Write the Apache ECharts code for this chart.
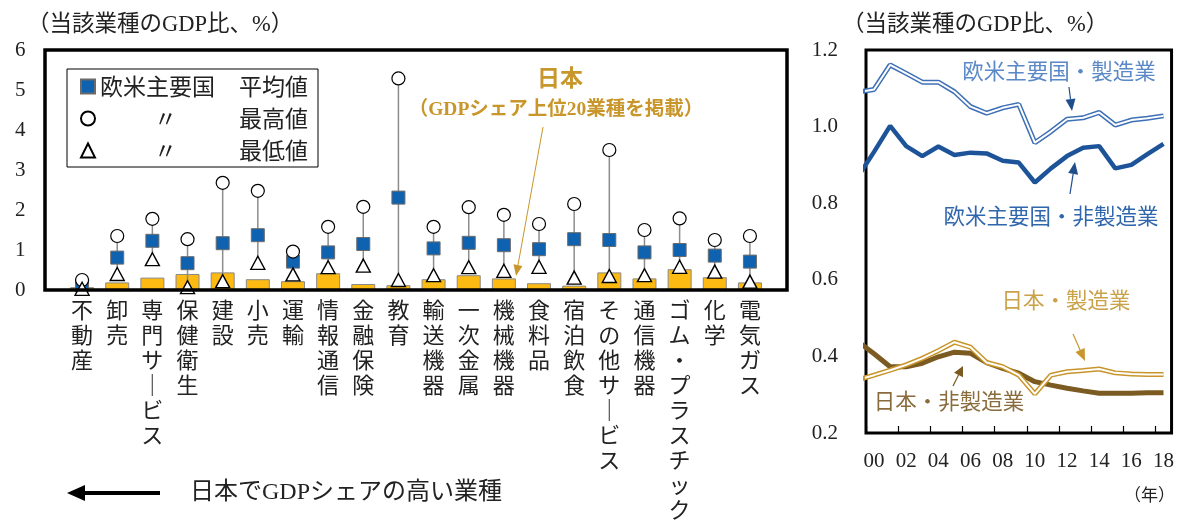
<!DOCTYPE html>
<html>
<head>
<meta charset="utf-8">
<script src="https://cdn.jsdelivr.net/npm/echarts@6/dist/echarts.min.js"></script>
<style>
  html, body { margin: 0; padding: 0; background: #fff; }
  #main { width: 1177px; height: 522px; }
</style>
</head>
<body>
<div id="main"></div>
<script>
// left panel: industries sorted by Japan's GDP share
var sectors = ['不動産', '卸売', '専門サービス', '保健衛生', '建設', '小売', '運輸', '情報通信', '金融保険', '教育',
    '輸送機器', '一次金属', '機械機器', '食料品', '宿泊飲食', 'その他サービス', '通信機器', 'ゴム・プラスチック', '化学', '電気ガス'];
var japanShare = [0.07, 0.19, 0.31, 0.40, 0.44, 0.27, 0.22, 0.42, 0.15, 0.12, 0.27, 0.37, 0.29, 0.17, 0.11, 0.44, 0.29, 0.52, 0.32, 0.19];
var usEuAvg = [0.12, 0.81, 1.23, 0.67, 1.17, 1.37, 0.71, 0.94, 1.15, 2.31, 1.04, 1.18, 1.12, 1.02, 1.27, 1.25, 0.94, 1.00, 0.86, 0.71];
var usEuMax = [0.25, 1.35, 1.78, 1.27, 2.68, 2.48, 0.96, 1.58, 2.08, 5.29, 1.58, 2.07, 1.88, 1.65, 2.15, 3.50, 1.50, 1.79, 1.25, 1.35];
var usEuMin = [0.03, 0.40, 0.77, 0.07, 0.22, 0.68, 0.39, 0.57, 0.61, 0.25, 0.37, 0.57, 0.48, 0.58, 0.31, 0.35, 0.37, 0.58, 0.46, 0.21];

// right panel: time series (1999 point is cut off by the frame)
var lineYears = [1999, 2000, 2001, 2002, 2003, 2004, 2005, 2006, 2007, 2008, 2009, 2010, 2011, 2012, 2013, 2014, 2015, 2016, 2017, 2018];
var usEuMfg = [1.090, 1.097, 1.161, 1.139, 1.116, 1.116, 1.091, 1.052, 1.035, 1.049, 1.058, 0.958, 0.987, 1.019, 1.023, 1.037, 1.004, 1.017, 1.022, 1.028];
var usEuNonMfg = [0.869, 0.934, 1.002, 0.949, 0.923, 0.948, 0.926, 0.932, 0.930, 0.911, 0.906, 0.854, 0.891, 0.923, 0.945, 0.949, 0.891, 0.900, 0.928, 0.955];
var jpMfg = [0.339, 0.351, 0.364, 0.378, 0.395, 0.415, 0.437, 0.424, 0.384, 0.373, 0.351, 0.302, 0.351, 0.360, 0.363, 0.367, 0.357, 0.354, 0.353, 0.353];
var jpNonMfg = [0.439, 0.407, 0.373, 0.373, 0.382, 0.399, 0.411, 0.408, 0.384, 0.369, 0.356, 0.334, 0.325, 0.317, 0.310, 0.304, 0.304, 0.304, 0.305, 0.305];

var JP = '"Noto Sans CJK JP", sans-serif';
var SERIF = '"Liberation Serif", "Noto Sans CJK JP", serif';

var axisYears = lineYears.slice(1).map(function (y) { return String(y).slice(2); });

function pairs(arr) {
    return lineYears.map(function (y, i) { return [y, arr[i]]; });
}

// vertical label text, one character per line
function vertical(s) {
    return s.replace(/ー/g, '｜').split('').join('\n');
}

// arrow made of a line and a head
function arrow(x1, y1, x2, y2, color, lw, hl, hw) {
    var dx = x2 - x1, dy = y2 - y1;
    var len = Math.sqrt(dx * dx + dy * dy);
    var ux = dx / len, uy = dy / len;
    var bx = x2 - ux * hl, by = y2 - uy * hl;
    return [
        { type: 'line', shape: { x1: x1, y1: y1, x2: bx, y2: by }, style: { stroke: color, lineWidth: lw }, z: 100 },
        {
            type: 'polygon', z: 100,
            shape: { points: [[x2, y2], [bx - uy * hw, by + ux * hw], [bx + uy * hw, by - ux * hw]] },
            style: { fill: color }
        }
    ];
}

function label(text, x, y, color, size, align, weight) {
    return {
        type: 'text', x: x, y: y, z: 100,
        style: {
            text: text, fill: color, font: (weight || 'normal') + ' ' + size + 'px ' + SERIF,
            align: align || 'left', textAlign: align || 'left', verticalAlign: 'middle', textVerticalAlign: 'middle'
        }
    };
}

var graphics = [
    // left frame
    { type: 'rect', z: 50, shape: { x: 45, y: 50, width: 742, height: 240 }, style: { fill: 'none', stroke: '#000', lineWidth: 3.5 } },
    label('（当該業種のGDP比、%）', 27, 25, '#222', 22.5),
    label('（当該業種のGDP比、%）', 842, 25, '#222', 22.5),
    label('日本', 560, 80, '#C8962A', 23, 'center', 'bold'),
    label('（GDPシェア上位20業種を掲載）', 556, 110, '#C8962A', 19.5, 'center', 'bold'),
    label('日本でGDPシェアの高い業種', 190, 493, '#222', 24),
    label('（年）', 1175, 497, '#222', 17, 'right'),
    label('欧米主要国・製造業', 1059, 73, '#5B88C6', 21.5, 'center'),
    label('欧米主要国・非製造業', 1051, 218, '#2F66AC', 21.5, 'center'),
    label('日本・製造業', 1066, 302, '#C9A24A', 21.5, 'center'),
    label('日本・非製造業', 949, 403, '#8A6C3C', 21.5, 'center')
];
graphics = graphics
    .concat(arrow(543, 127, 516, 276, '#C8962A', 1, 11, 4.5))
    .concat(arrow(160, 493, 67, 493, '#000', 4, 18, 8))
    .concat(arrow(1069, 87, 1072, 111, '#1F4E8C', 1.2, 12, 5))
    .concat(arrow(1070, 194, 1075, 162, '#1F4E8C', 1.2, 12, 5))
    .concat(arrow(1073, 334, 1085, 361, '#C9962E', 1.2, 12, 5))
    .concat(arrow(953, 386, 963, 366, '#7A5A22', 1.2, 10, 5));

var legendNames = ['欧米主要国　平均値', '欧米主要国　最高値', '欧米主要国　最低値'];

var chart = echarts.init(document.getElementById('main'), null, { renderer: 'canvas' });

var option = {
    animation: false,
    backgroundColor: '#fff',
    textStyle: { fontFamily: SERIF },
    grid: [
        { left: 64.5, top: 50, width: 703, height: 240 },
        { left: 866, top: 50, width: 306, height: 383, show: true, borderColor: '#000', borderWidth: 3, backgroundColor: 'transparent' }
    ],
    legend: {
        data: legendNames,
        orient: 'vertical',
        left: 67, top: 69,
        padding: [6, 10, 5, 13],
        itemWidth: 14, itemHeight: 14, itemGap: 9,
        borderColor: '#000', borderWidth: 1,
        backgroundColor: '#fff',
        selectedMode: false,
        formatter: function (name) {
            if (name === legendNames[0]) return '{a|欧米主要国}{b|平均値}';
            if (name === legendNames[1]) return '{c|〃}{b|最高値}';
            return '{c|〃}{b|最低値}';
        },
        textStyle: {
            fontFamily: JP, fontSize: 23, color: '#222', lineHeight: 23,
            rich: {
                a: { fontFamily: JP, fontSize: 23, color: '#222', width: 139 },
                b: { fontFamily: JP, fontSize: 23, color: '#222' },
                c: { fontFamily: JP, fontSize: 23, color: '#222', width: 85, padding: [0, 0, 0, 54] }
            }
        }
    },
    xAxis: [
        {
            type: 'category', gridIndex: 0, data: sectors,
            axisLine: { show: false }, axisTick: { show: false },
            axisLabel: {
                interval: 0, margin: 7, fontFamily: JP, fontSize: 22, lineHeight: 25, color: '#222',
                verticalAlign: 'top',
                formatter: function (v) { return vertical(v); }
            }
        },
        { type: 'value', gridIndex: 1, min: 1999.5, max: 2018.5, show: false },
        {
            type: 'category', gridIndex: 1, data: axisYears, boundaryGap: true, position: 'bottom',
            axisLine: { show: false },
            axisTick: { show: true, inside: true, length: 7, interval: 1, lineStyle: { color: '#000', width: 1.2 } },
            axisLabel: { interval: 1, margin: 18, fontFamily: SERIF, fontSize: 21, color: '#222' }
        }
    ],
    yAxis: [
        {
            type: 'value', gridIndex: 0, min: 0, max: 6, interval: 1,
            axisLine: { show: false }, axisTick: { show: false }, splitLine: { show: false },
            axisLabel: { margin: 39, fontFamily: SERIF, fontSize: 21, color: '#222' }
        },
        {
            type: 'value', gridIndex: 1, min: 0.2, max: 1.2, interval: 0.2,
            axisLine: { show: false }, axisTick: { show: false }, splitLine: { show: false },
            axisLabel: {
                margin: 28, fontFamily: SERIF, fontSize: 21, color: '#222',
                formatter: function (v) { return v.toFixed(1); }
            }
        }
    ],
    graphic: graphics,
    series: [
        {
            name: '日本', type: 'bar', xAxisIndex: 0, yAxisIndex: 0, data: japanShare, barWidth: 24,
            itemStyle: { color: '#FCBA12', borderColor: '#8a8a8a', borderWidth: 1 }, z: 2
        },
        {
            name: 'range', type: 'custom', xAxisIndex: 0, yAxisIndex: 0, z: 3,
            data: sectors.map(function (s, i) { return [i, usEuMin[i], usEuMax[i]]; }),
            renderItem: function (params, api) {
                var lo = api.coord([api.value(0), api.value(1)]);
                var hi = api.coord([api.value(0), api.value(2)]);
                return {
                    type: 'line',
                    shape: { x1: lo[0], y1: lo[1], x2: hi[0], y2: hi[1] },
                    style: { stroke: '#8c8c8c', lineWidth: 1.5 }
                };
            }
        },
        {
            name: legendNames[0], type: 'scatter', xAxisIndex: 0, yAxisIndex: 0, data: usEuAvg, z: 4,
            symbol: 'rect', symbolSize: 13,
            itemStyle: { color: '#0F62B0', borderColor: '#6b6b6b', borderWidth: 1, opacity: 1 }
        },
        {
            name: legendNames[1], type: 'scatter', xAxisIndex: 0, yAxisIndex: 0, data: usEuMax, z: 5,
            symbol: 'circle', symbolSize: 13,
            itemStyle: { color: '#fff', borderColor: '#000', borderWidth: 1.2, opacity: 1 }
        },
        {
            name: legendNames[2], type: 'scatter', xAxisIndex: 0, yAxisIndex: 0, data: usEuMin, z: 6,
            symbol: 'triangle', symbolSize: [14, 13],
            itemStyle: { color: '#fff', borderColor: '#000', borderWidth: 1.4, opacity: 1 }
        },
        // right panel lines
        {
            name: '欧米主要国・非製造業', type: 'line', xAxisIndex: 1, yAxisIndex: 1, data: pairs(usEuNonMfg),
            showSymbol: false, lineStyle: { color: '#1D5499', width: 4.5 }, z: 3
        },
        {
            name: '欧米主要国・製造業', type: 'line', xAxisIndex: 1, yAxisIndex: 1, data: pairs(usEuMfg),
            showSymbol: false, lineStyle: { color: '#3E70B6', width: 5 }, z: 3
        },
        {
            name: '欧米主要国・製造業_inner', type: 'line', xAxisIndex: 1, yAxisIndex: 1, data: pairs(usEuMfg),
            showSymbol: false, lineStyle: { color: '#fff', width: 2 }, z: 4
        },
        {
            name: '日本・非製造業', type: 'line', xAxisIndex: 1, yAxisIndex: 1, data: pairs(jpNonMfg),
            showSymbol: false, lineStyle: { color: '#7B5B22', width: 5 }, z: 3
        },
        {
            name: '日本・製造業', type: 'line', xAxisIndex: 1, yAxisIndex: 1, data: pairs(jpMfg),
            showSymbol: false, lineStyle: { color: '#C8952B', width: 5 }, z: 5
        },
        {
            name: '日本・製造業_inner', type: 'line', xAxisIndex: 1, yAxisIndex: 1, data: pairs(jpMfg),
            showSymbol: false, lineStyle: { color: '#fff', width: 2 }, z: 6
        }
    ]
};

chart.setOption(option);
</script>
</body>
</html>
